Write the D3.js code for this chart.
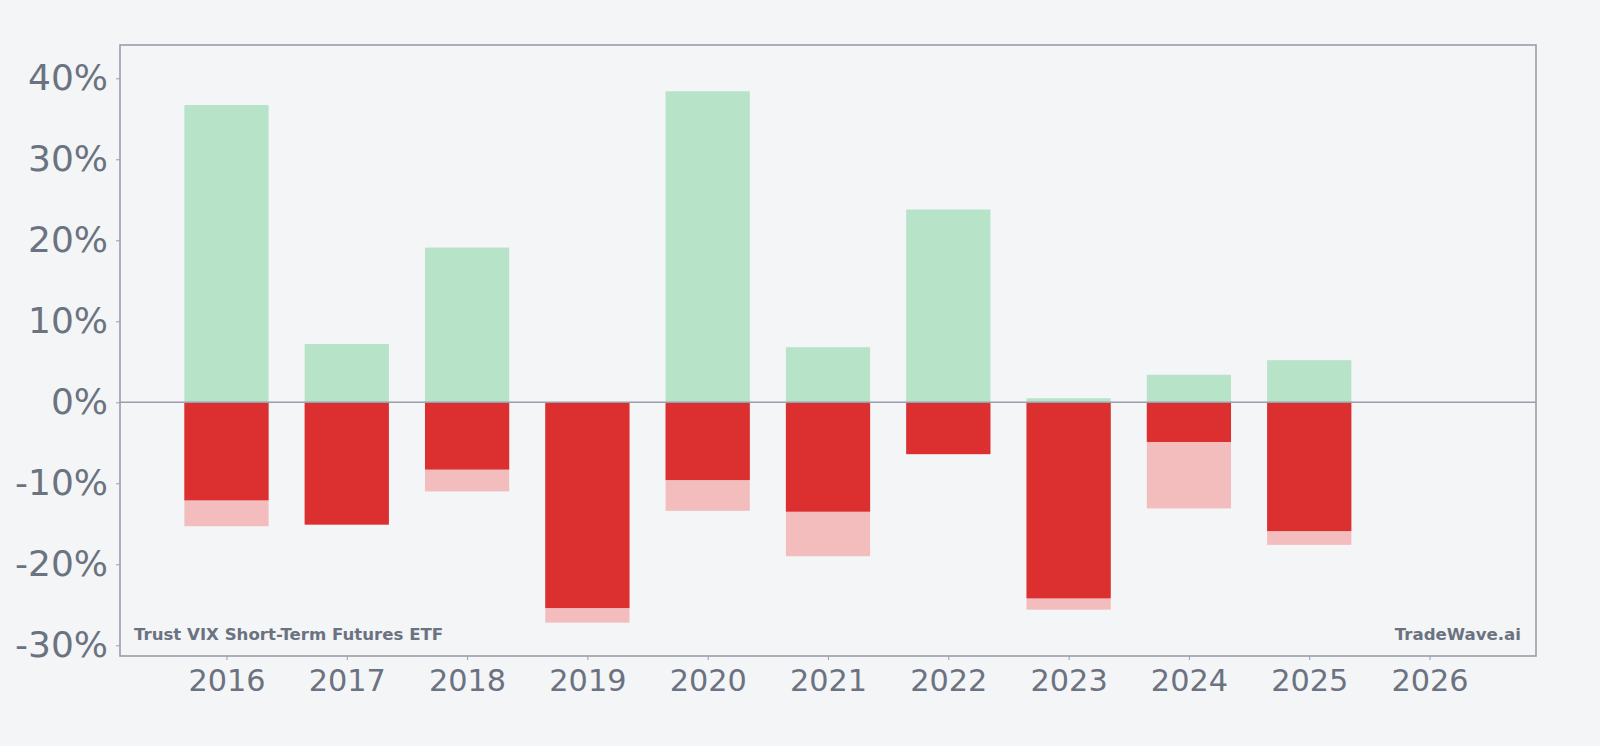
<!DOCTYPE html>
<html>
<head>
<meta charset="utf-8">
<script src="https://cdn.jsdelivr.net/npm/d3@7"></script>
<style>
  html, body { margin: 0; padding: 0; background: #f4f5f7; }
  svg { display: block; }
</style>
</head>
<body>
<svg id="chart" width="1600" height="746"></svg>
<script>
// yearly ranges, in percent
const years = [2016, 2017, 2018, 2019, 2020, 2021, 2022, 2023, 2024, 2025];
const maxGain = [36.7, 7.2, 19.1, 0, 38.4, 6.8, 23.8, 0.5, 3.4, 5.2];
const yearReturn = [-12.1, -15.1, -8.3, -25.4, -9.6, -13.5, -6.4, -24.2, -4.9, -15.9];
const maxDrawdown = [-15.3, -15.1, -11.0, -27.2, -13.4, -19.0, -6.4, -25.6, -13.1, -17.6];
const xTicks = [2016, 2017, 2018, 2019, 2020, 2021, 2022, 2023, 2024, 2025, 2026];
const yTicks = [-30, -20, -10, 0, 10, 20, 30, 40];

const svg = d3.select("#chart");
const margin = { top: 45, right: 64, bottom: 90, left: 120 };
const width = +svg.attr("width");
const height = +svg.attr("height");

const textColor = "#6b7280";
const frameColor = "#9a9dab";

const x = d3.scaleLinear()
  .domain([2015.115, 2026.885])
  .range([margin.left, width - margin.right]);

const y = d3.scaleLinear()
  .domain([-31.32, 44.11])
  .range([height - margin.bottom, margin.top]);

const barW = x(2016.35) - x(2015.65);

const rows = years.map((yr, i) => ({
  year: yr, gain: maxGain[i], ret: yearReturn[i], dd: maxDrawdown[i]
}));

// drawdown (light) first, return (dark) over it
svg.append("g").selectAll("rect")
  .data(rows)
  .join("rect")
  .attr("x", d => x(d.year) - barW / 2)
  .attr("width", barW)
  .attr("y", y(0))
  .attr("height", d => y(d.dd) - y(0))
  .attr("fill", "#f3bdbd");

svg.append("g").selectAll("rect")
  .data(rows)
  .join("rect")
  .attr("x", d => x(d.year) - barW / 2)
  .attr("width", barW)
  .attr("y", y(0))
  .attr("height", d => y(d.ret) - y(0))
  .attr("fill", "#dc3030");

svg.append("g").selectAll("rect")
  .data(rows.filter(d => d.gain > 0))
  .join("rect")
  .attr("x", d => x(d.year) - barW / 2)
  .attr("width", barW)
  .attr("y", d => y(d.gain))
  .attr("height", d => y(0) - y(d.gain))
  .attr("fill", "#b7e3c8");

// zero line
svg.append("line")
  .attr("x1", margin.left).attr("x2", width - margin.right)
  .attr("y1", y(0)).attr("y2", y(0))
  .attr("stroke", frameColor)
  .attr("stroke-width", 1.6);

// axes
const yAxis = svg.append("g")
  .attr("transform", `translate(${margin.left},0)`)
  .call(d3.axisLeft(y).tickValues(yTicks).tickFormat(d => d + "%").tickSizeOuter(0).tickSize(4).tickPadding(8));

const xAxis = svg.append("g")
  .attr("transform", `translate(0,${height - margin.bottom})`)
  .call(d3.axisBottom(x).tickValues(xTicks).tickFormat(d3.format("d")).tickSizeOuter(0).tickSize(4).tickPadding(9));

[yAxis, xAxis].forEach(g => {
  g.select(".domain").remove();
  g.selectAll(".tick line").attr("stroke", frameColor).attr("stroke-width", 1);
  g.selectAll("text").attr("fill", textColor).attr("font-family", "DejaVu Sans");
});
yAxis.selectAll("text").attr("font-size", 36);
xAxis.selectAll("text").attr("font-size", 30.3);

// frame
svg.append("rect")
  .attr("x", margin.left).attr("y", margin.top)
  .attr("width", width - margin.left - margin.right)
  .attr("height", height - margin.top - margin.bottom)
  .attr("fill", "none")
  .attr("stroke", frameColor)
  .attr("stroke-width", 1.6);

// labels inside the plot
svg.append("text")
  .attr("x", margin.left + 14)
  .attr("y", height - margin.bottom - 16)
  .attr("font-family", "DejaVu Sans")
  .attr("font-weight", "bold")
  .attr("font-size", 16.6)
  .attr("fill", textColor)
  .text("Trust VIX Short-Term Futures ETF");

svg.append("text")
  .attr("x", width - margin.right - 15)
  .attr("y", height - margin.bottom - 16)
  .attr("text-anchor", "end")
  .attr("font-family", "DejaVu Sans")
  .attr("font-weight", "bold")
  .attr("font-size", 16.6)
  .attr("fill", textColor)
  .text("TradeWave.ai");
</script>
</body>
</html>
